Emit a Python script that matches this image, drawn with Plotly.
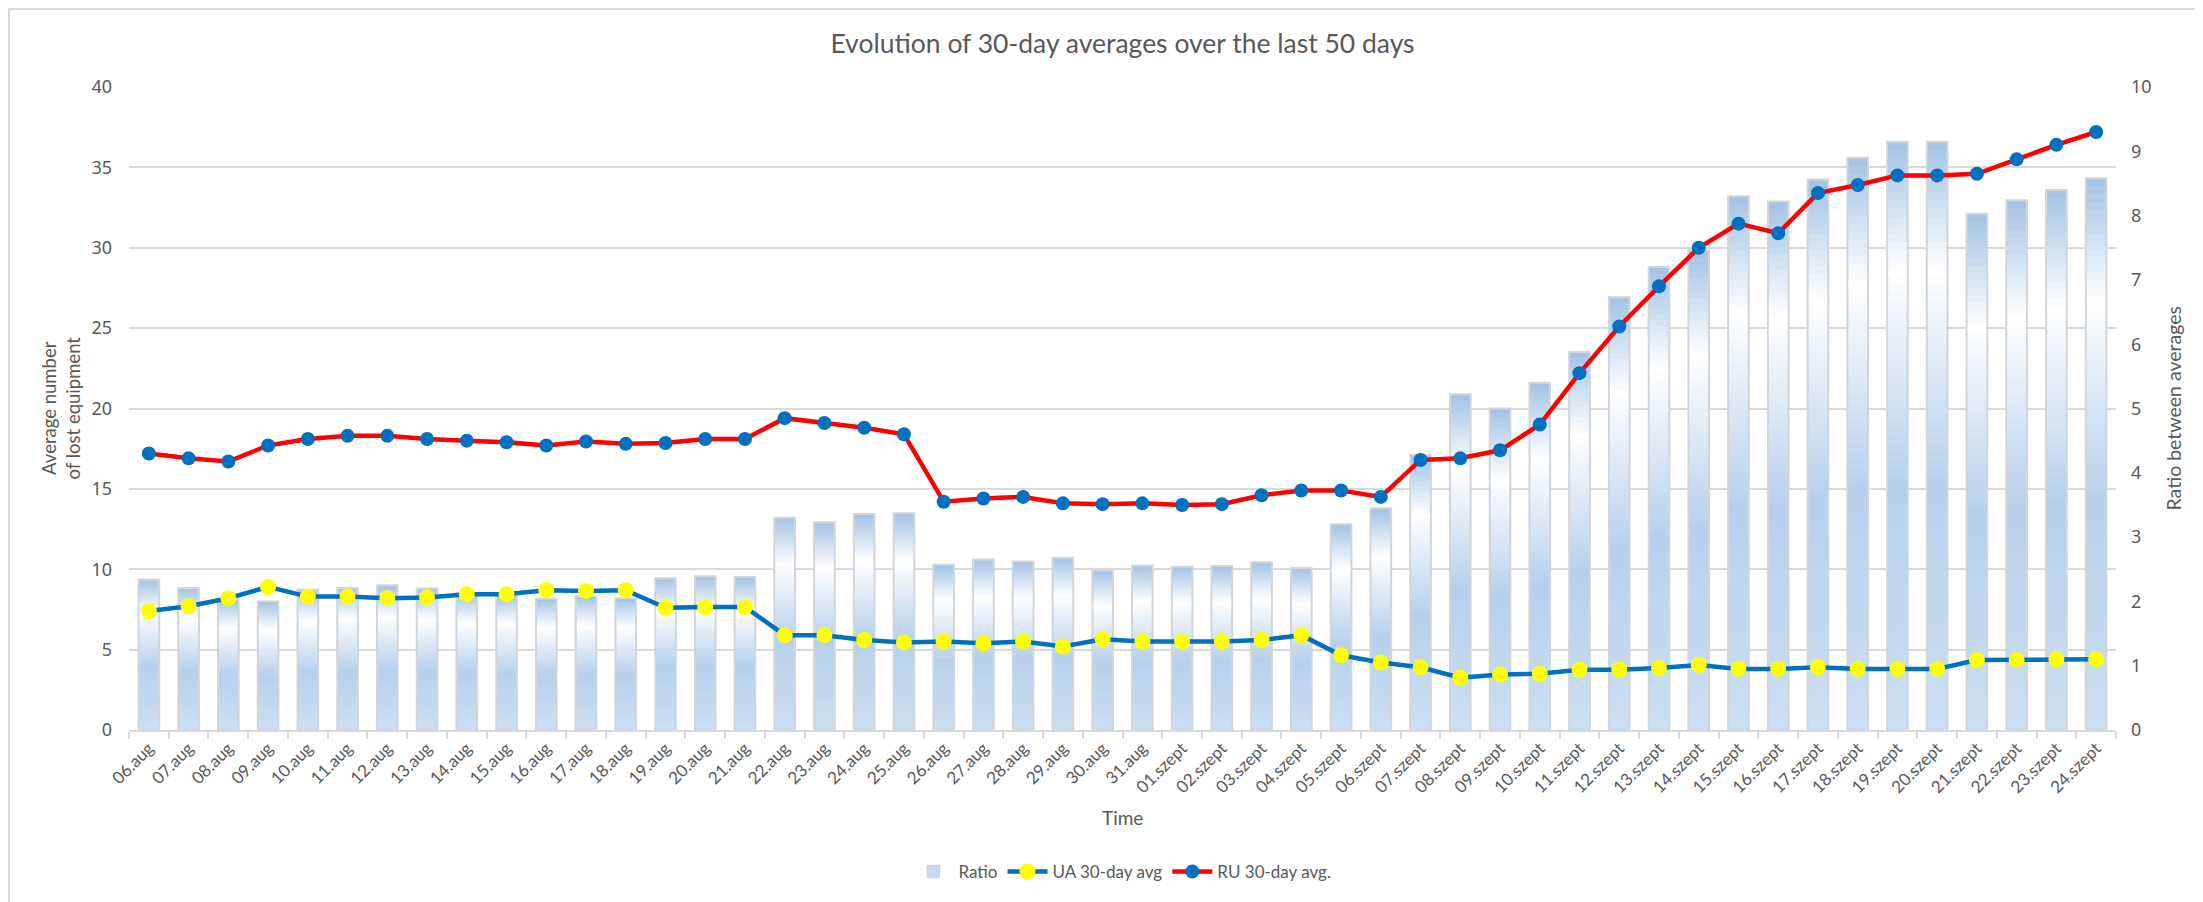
import plotly.graph_objects as go

# ---------------- data ----------------
dates = ["06.aug", "07.aug", "08.aug", "09.aug", "10.aug", "11.aug", "12.aug", "13.aug",
         "14.aug", "15.aug", "16.aug", "17.aug", "18.aug", "19.aug", "20.aug", "21.aug",
         "22.aug", "23.aug", "24.aug", "25.aug", "26.aug", "27.aug", "28.aug", "29.aug",
         "30.aug", "31.aug", "01.szept", "02.szept", "03.szept", "04.szept", "05.szept",
         "06.szept", "07.szept", "08.szept", "09.szept", "10.szept", "11.szept", "12.szept",
         "13.szept", "14.szept", "15.szept", "16.szept", "17.szept", "18.szept", "19.szept",
         "20.szept", "21.szept", "22.szept", "23.szept", "24.szept"]

ru_avg = [17.2, 16.9, 16.7, 17.7, 18.1, 18.3, 18.3, 18.1, 18.0, 17.9,
          17.7, 17.95, 17.8, 17.85, 18.1, 18.1, 19.4, 19.1, 18.8, 18.4,
          14.2, 14.4, 14.5, 14.1, 14.05, 14.1, 14.0, 14.05, 14.6, 14.9,
          14.9, 14.5, 16.8, 16.9, 17.4, 19.0, 22.2, 25.1, 27.6, 30.0,
          31.5, 30.9, 33.4, 33.9, 34.5, 34.5, 34.6, 35.5, 36.4, 37.2]

ua_avg = [7.4, 7.7, 8.2, 8.9, 8.3, 8.3, 8.2, 8.25, 8.45, 8.45,
          8.7, 8.65, 8.7, 7.6, 7.65, 7.65, 5.9, 5.9, 5.6, 5.45,
          5.5, 5.4, 5.5, 5.2, 5.65, 5.5, 5.5, 5.5, 5.6, 5.9,
          4.65, 4.2, 3.9, 3.25, 3.45, 3.5, 3.75, 3.75, 3.85, 4.05,
          3.8, 3.8, 3.9, 3.8, 3.8, 3.8, 4.35, 4.35, 4.4, 4.4]

ratio = [2.34, 2.21, 2.03, 2.0, 2.18, 2.21, 2.25, 2.2, 2.13, 2.12,
         2.04, 2.08, 2.05, 2.36, 2.39, 2.38, 3.3, 3.23, 3.36, 3.37,
         2.57, 2.65, 2.62, 2.68, 2.48, 2.56, 2.54, 2.55, 2.61, 2.52,
         3.2, 3.45, 4.28, 5.22, 5.0, 5.4, 5.88, 6.73, 7.2, 7.46,
         8.3, 8.22, 8.56, 8.9, 9.15, 9.15, 8.03, 8.24, 8.4, 8.58]

title_text = "Evolution of 30-day averages over the last 50 days"

# ---------------- styling ----------------
W, H = 2203, 902
ML, MR, MT, MB = 121, 95, 79, 180
PW, PH = W - ML - MR, H - MT - MB
TXT = "#595959"
GRID = "#d9d9d9"
FONT = "Lato"

# vertical gradient of the bars (fraction of bar height -> colour)
stops = [(0.0, (205, 223, 242)), (0.42, (182, 208, 236)), (0.78, (255, 255, 255)),
         (1.0, (162, 194, 228))]


def grad_colour(f):
    for (f0, c0), (f1, c1) in zip(stops[:-1], stops[1:]):
        if f0 <= f <= f1:
            t = (f - f0) / (f1 - f0)
            c = [round(a + (b - a) * t) for a, b in zip(c0, c1)]
            return "rgb(%d,%d,%d)" % tuple(c)
    return "rgb(%d,%d,%d)" % stops[-1][1]


fig = go.Figure()

# legend entry for the ratio bars
fig.add_trace(go.Bar(x=[dates[0]], y=[None], name="Ratio", yaxis="y",
                     marker=dict(color="#c6daee", line=dict(color="#cfd3d8", width=1.5)),
                     hoverinfo="skip"))

N = 70
for i in range(N):
    f0, f1 = i / N, (i + 1) / N
    extra = 0.004 if i < N - 1 else 0.0
    fig.add_trace(go.Bar(
        x=dates, y=[r * (f1 - f0 + extra) for r in ratio], base=[r * f0 for r in ratio],
        yaxis="y", marker=dict(color=grad_colour((f0 + f1) / 2), line=dict(width=0)),
        showlegend=False, hoverinfo="skip"))

# outline of the ratio bars
fig.add_trace(go.Bar(x=dates, y=ratio, yaxis="y", showlegend=False, name="Ratio",
                     marker=dict(color="rgba(0,0,0,0)", line=dict(color="#d2d5da", width=2))))

fig.add_trace(go.Scatter(x=dates, y=ua_avg, name="UA 30-day avg", yaxis="y2",
                         mode="lines+markers",
                         line=dict(color="#0070c0", width=4.5),
                         marker=dict(color="#ffff00", size=16, line=dict(width=0))))
fig.add_trace(go.Scatter(x=dates, y=ru_avg, name="RU 30-day avg.", yaxis="y2",
                         mode="lines+markers",
                         line=dict(color="#ff0000", width=4.5),
                         marker=dict(color="#0070c0", size=14, line=dict(width=0))))

fig.update_layout(
    width=W, height=H,
    margin=dict(l=ML, r=MR, t=MT, b=MB),
    paper_bgcolor="white", plot_bgcolor="white",
    font=dict(family=FONT, color=TXT, size=17),
    barmode="overlay", bargap=0.48,
    title=dict(text=title_text, x=0.5, xanchor="center", xref="paper",
               y=1 - 36 / H, yanchor="middle", yref="container",
               font=dict(family=FONT, size=26.5, color=TXT)),
    xaxis=dict(type="category", categoryorder="array", categoryarray=dates,
               range=[-0.5, len(dates) - 0.5], autorange=False,
               tickangle=-45, tickson="boundaries",
               ticks="outside", ticklen=7, tickcolor=GRID, tickwidth=1.5,
               showline=True, linecolor=GRID, linewidth=1.5, showgrid=False,
               tickfont=dict(family=FONT, size=17, color=TXT)),
    yaxis=dict(range=[0, 10], dtick=1, side="right", showgrid=False, zeroline=False,
               showline=False, ticks="", ticklabelstandoff=14,
               tickfont=dict(family="Noto Sans", size=18, color=TXT)),
    yaxis2=dict(range=[0, 40], dtick=5, side="left", overlaying="y",
                showgrid=True, gridcolor=GRID, gridwidth=1.5, zeroline=False,
                showline=False, ticks="", ticklabelstandoff=16,
                tickfont=dict(family="Noto Sans", size=18, color=TXT)),
    legend=dict(orientation="h", x=0.5, xanchor="center", y=-(864 - (H - MB)) / PH,
                yanchor="middle", font=dict(family=FONT, size=17, color=TXT),
                itemwidth=40, traceorder="normal"),
    showlegend=True,
    annotations=[
        dict(text="Average number<br>of lost equipment", xref="paper", yref="paper",
             x=(52 - ML) / PW, y=0.5, xanchor="center", yanchor="middle",
             textangle=-90, showarrow=False, font=dict(family=FONT, size=18.5, color=TXT)),
        dict(text="Ratio between averages", xref="paper", yref="paper",
             x=(2165 - ML) / PW, y=0.5, xanchor="center", yanchor="middle",
             textangle=-90, showarrow=False, font=dict(family=FONT, size=19.5, color=TXT)),
        dict(text="Time", xref="paper", yref="paper",
             x=(1114 - ML) / PW, y=-(809 - (H - MB)) / PH, xanchor="center",
             yanchor="middle", showarrow=False, font=dict(family=FONT, size=19, color=TXT)),
    ],
    shapes=[dict(type="rect", xref="paper", yref="paper",
                 x0=(1 - ML) / PW, x1=(W - 1 - ML) / PW,
                 y0=-(H - 1 - MT - PH) / PH, y1=1 + (MT - 1) / PH,
                 line=dict(color="#d9d9d9", width=2), fillcolor="rgba(0,0,0,0)",
                 layer="below")],
)

fig.write_html("out.html")
